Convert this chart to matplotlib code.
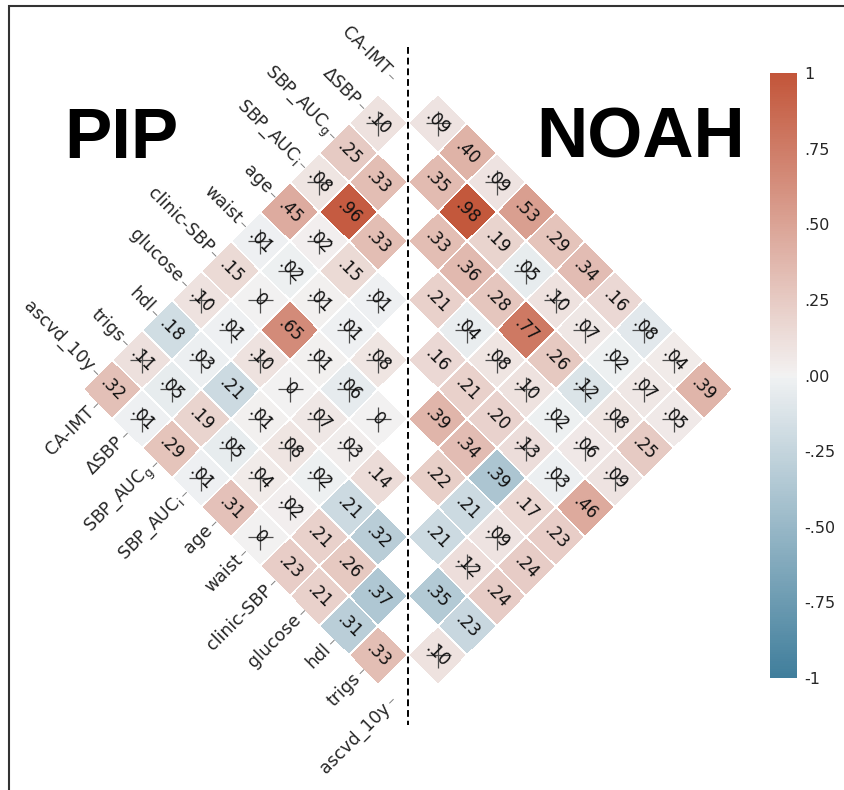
import numpy as np
import matplotlib
matplotlib.use("Agg")
import matplotlib.pyplot as plt
from matplotlib.transforms import Affine2D
from matplotlib.patches import Rectangle
import seaborn as sns

# variable order (rows / cols of the correlation matrix)
variables = ["CA-IMT", "ΔSBP", r"SBP_AUC$_\mathregular{g}$", r"SBP_AUC$_\mathregular{i}$",
             "age", "waist", "clinic-SBP", "glucose", "hdl", "trigs", "ascvd_10y"]

# lower triangle, row i holds correlations with columns 0..i-1
pip_rows = [
    [0.10],
    [0.25, 0.33],
    [0.08, 0.96, 0.33],
    [0.45, 0.02, 0.15, -0.01],
    [-0.01, -0.02, 0.01, -0.01, 0.08],
    [0.15, 0.00, 0.65, 0.01, -0.06, 0.00],
    [0.10, -0.01, 0.10, 0.00, 0.07, 0.03, 0.14],
    [-0.18, -0.03, -0.21, 0.01, 0.08, -0.02, -0.21, -0.32],
    [0.11, -0.05, 0.19, -0.05, 0.04, 0.02, 0.21, 0.26, -0.37],
    [0.32, -0.01, 0.29, -0.01, 0.31, 0.00, 0.23, 0.21, -0.31, 0.33],
]
# 1 = not significant (crossed out)
pip_ns = [
    [1],
    [0, 0],
    [1, 0, 0],
    [0, 1, 0, 1],
    [1, 1, 1, 1, 1],
    [0, 1, 0, 1, 1, 1],
    [1, 1, 1, 1, 1, 1, 0],
    [0, 1, 0, 1, 1, 1, 0, 0],
    [1, 1, 0, 1, 1, 1, 0, 0, 0],
    [0, 1, 0, 1, 0, 1, 0, 0, 0, 0],
]

noah_rows = [
    [0.09],
    [0.40, 0.35],
    [0.09, 0.98, 0.33],
    [0.53, 0.19, 0.36, 0.21],
    [0.29, -0.05, 0.28, -0.04, 0.16],
    [0.34, 0.10, 0.77, 0.08, 0.21, 0.39],
    [0.16, 0.07, 0.26, 0.10, 0.20, 0.34, 0.22],
    [-0.08, -0.02, -0.12, -0.02, 0.13, -0.39, -0.21, -0.21],
    [0.04, 0.07, 0.08, 0.06, -0.03, 0.17, 0.09, 0.12, -0.35],
    [0.39, 0.05, 0.25, 0.09, 0.46, 0.23, 0.24, 0.24, -0.23, 0.10],
]
noah_ns = [
    [1],
    [0, 0],
    [1, 0, 0],
    [0, 0, 0, 0],
    [0, 1, 0, 1, 0],
    [0, 1, 0, 1, 0, 0],
    [0, 1, 0, 1, 0, 0, 0],
    [1, 1, 1, 1, 1, 0, 0, 0],
    [1, 1, 1, 1, 1, 0, 1, 1, 0],
    [0, 1, 0, 1, 0, 0, 0, 0, 0, 1],
]

cbar_ticks = [1, 0.75, 0.5, 0.25, 0, -0.25, -0.5, -0.75, -1]
cbar_labels = ["1", ".75", ".50", ".25", ".00", "-.25", "-.50", "-.75", "-1"]

W, H = 845, 790
UNIT = 41.8          # px per matrix cell
X0, Y0 = 408, 64     # px position of matrix corner (0, 0)

n = len(variables)


def to_matrix(rows):
    m = np.ma.masked_all((n, n))
    for i, row in enumerate(rows, start=1):
        m[i, :i] = row
    return m


def fmt(v):
    if v == 0:
        return "0"
    return ("%.2f" % abs(v))[1:]


fig = plt.figure(figsize=(W / 100, H / 100), dpi=100)
ax = fig.add_axes([0, 0, 1, 1])
ax.set_xlim(-X0 / UNIT, (W - X0) / UNIT)
ax.set_ylim(-(H - Y0) / UNIT, Y0 / UNIT)
ax.axis("off")

cmap = sns.diverging_palette(230, 20, as_cmap=True)
s = np.sqrt(0.5)
left_tr = Affine2D(np.array([[s, -s, 0], [-s, -s, 0], [0, 0, 1]])) + ax.transData
right_tr = Affine2D(np.array([[-s, s, 0], [-s, -s, 0], [0, 0, 1]])) + ax.transData

edges = np.arange(n + 1)
mesh = None
for rows, ns, tr in [(pip_rows, pip_ns, left_tr), (noah_rows, noah_ns, right_tr)]:
    mat = to_matrix(rows)
    mesh = ax.pcolormesh(edges, edges, mat, cmap=cmap, vmin=-1, vmax=1,
                         edgecolors="white", linewidth=0.2, transform=tr)
    for i in range(1, n):
        for j in range(i):
            ax.text(j + 0.5, i + 0.5, fmt(mat[i, j]), transform=tr, rotation=-45,
                    rotation_mode="anchor", ha="center", va="center",
                    fontsize=12, color="#111111")
            if ns[i - 1][j]:
                ax.plot(j + 0.5, i + 0.5, marker="+", ms=18, mew=0.9,
                        color="0.3", transform=tr)

# tick labels on the PIP half
for k, name in enumerate(variables):
    ax.plot([-0.12, 0], [k + 0.5, k + 0.5], color="0.5", lw=0.7, transform=left_tr)
    ax.text(-0.2, k + 0.5, name, transform=left_tr, rotation=-45,
            rotation_mode="anchor", ha="right", va="center",
            fontsize=12.5, color="#262626")
    ax.plot([k + 0.5, k + 0.5], [n, n + 0.12], color="0.5", lw=0.7, transform=left_tr)
    ax.text(k + 0.5, n + 0.2, name, transform=left_tr, rotation=45,
            rotation_mode="anchor", ha="right", va="center",
            fontsize=12.5, color="#262626")

# dashed divider
ax.plot([0, 0], [(Y0 - 47) / UNIT, (Y0 - 725) / UNIT], color="black",
        lw=1.4, ls=(0, (3.5, 2)))

fig.text(121 / W, 1 - 158 / H, "PIP", ha="center", va="baseline",
         fontsize=51, fontweight="bold", family="Liberation Sans")
fig.text(641 / W, 1 - 158 / H, "NOAH", ha="center", va="baseline",
         fontsize=51, fontweight="bold", family="Liberation Sans")

cax = fig.add_axes([770 / W, 1 - 678 / H, 27 / W, 605 / H])
cb = fig.colorbar(mesh, cax=cax, ticks=cbar_ticks)
cb.ax.set_yticklabels(cbar_labels, fontsize=11.5, color="#262626")
cb.outline.set_visible(False)
cb.ax.tick_params(length=0, pad=5)

fig.add_artist(Rectangle((9 / W, -0.05), 1.1, 1 - 6 / H + 0.05,
                         transform=fig.transFigure, fill=False,
                         ec="#333333", lw=1.5))

fig.savefig("out.png", dpi=100)
